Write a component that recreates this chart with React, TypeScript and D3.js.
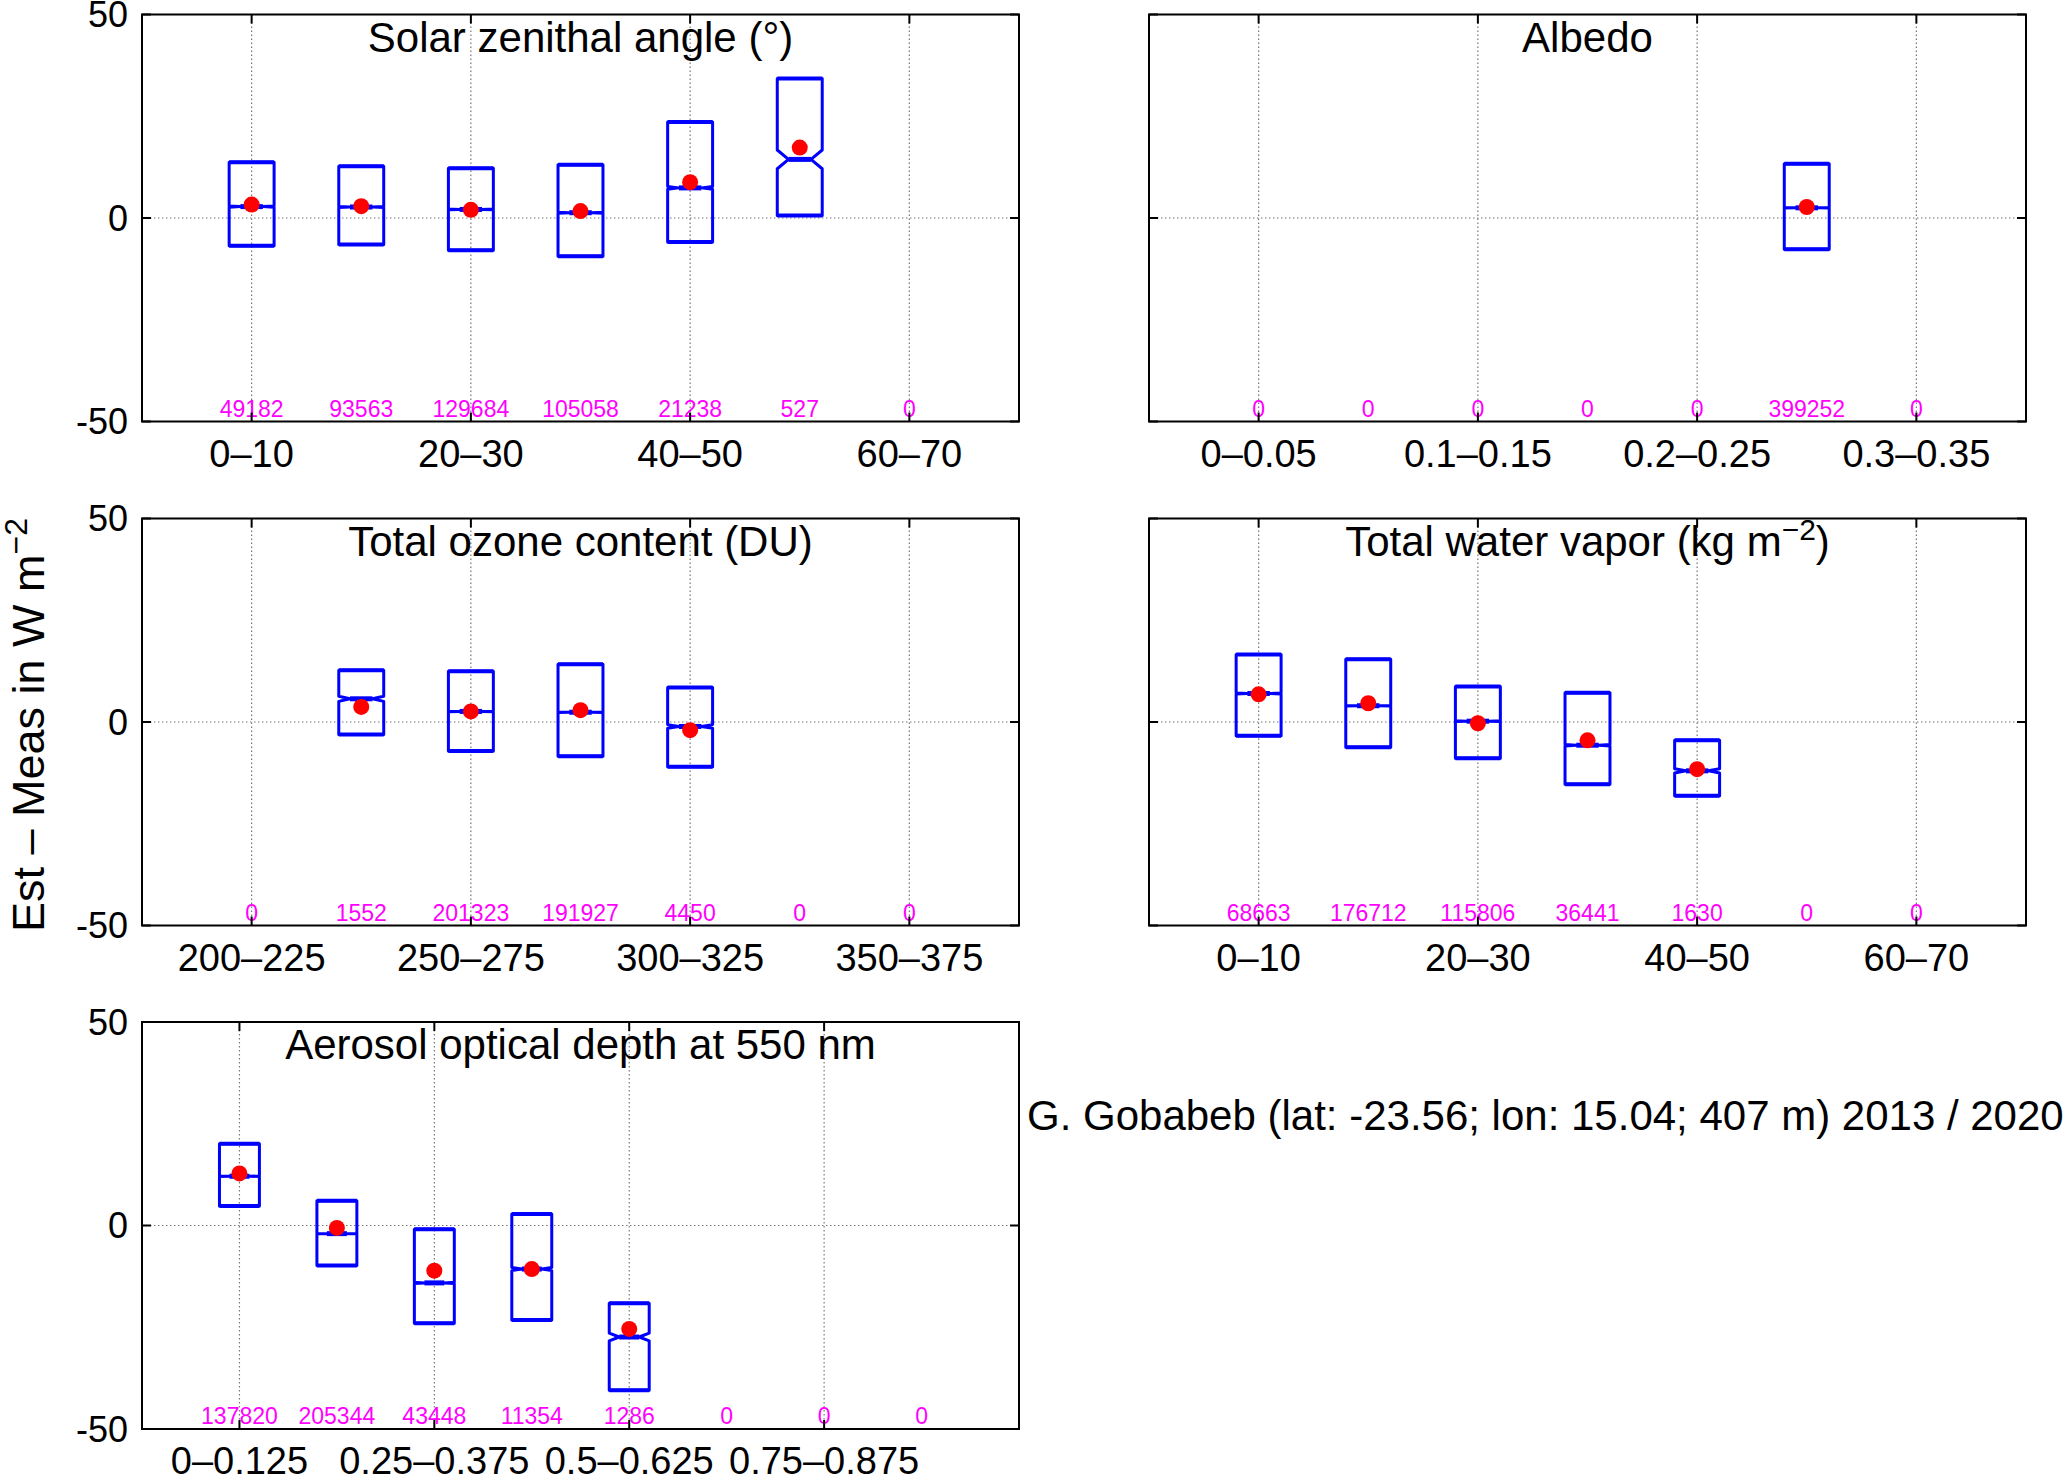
import React from "react";
import * as d3 from "d3";

// ---- data ----
const szaCategories = ["0–10", "10–20", "20–30", "30–40", "40–50", "50–60", "60–70"];
const szaCounts = [49182, 93563, 129684, 105058, 21238, 527, 0];
const szaQ1 = [-6.8, -6.5, -7.9, -9.4, -5.9, 0.6, null];
const szaQ3 = [13.7, 12.7, 12.2, 13.1, 23.6, 34.3, null];
const szaMedian = [2.8, 2.7, 2.1, 1.3, 7.4, 14.4, null];
const szaMean = [3.3, 2.9, 2.0, 1.7, 8.8, 17.3, null];

const albCategories = ["0–0.05", "0.05–0.1", "0.1–0.15", "0.15–0.2", "0.2–0.25", "0.25–0.3", "0.3–0.35"];
const albCounts = [0, 0, 0, 0, 0, 399252, 0];
const albQ1 = [null, null, null, null, null, -7.7, null];
const albQ3 = [null, null, null, null, null, 13.3, null];
const albMedian = [null, null, null, null, null, 2.5, null];
const albMean = [null, null, null, null, null, 2.7, null];

const ozoCategories = ["200–225", "225–250", "250–275", "275–300", "300–325", "325–350", "350–375"];
const ozoCounts = [0, 1552, 201323, 191927, 4450, 0, 0];
const ozoQ1 = [null, -3.1, -7.1, -8.4, -11.0, null, null];
const ozoQ3 = [null, 12.7, 12.5, 14.2, 8.5, null, null];
const ozoMedian = [null, 5.7, 2.6, 2.4, -1.1, null, null];
const ozoMean = [null, 3.7, 2.6, 2.9, -2.0, null, null];

const wvCategories = ["0–10", "10–20", "20–30", "30–40", "40–50", "50–60", "60–70"];
const wvCounts = [68663, 176712, 115806, 36441, 1630, 0, 0];
const wvQ1 = [-3.4, -6.2, -8.9, -15.3, -18.1, null, null];
const wvQ3 = [16.6, 15.4, 8.7, 7.2, -4.5, null, null];
const wvMedian = [7.0, 4.0, 0.2, -5.7, -12.0, null, null];
const wvMean = [6.8, 4.6, -0.3, -4.5, -11.6, null, null];

const aodCategories = ["0–0.125", "0.125–0.25", "0.25–0.375", "0.375–0.5", "0.5–0.625", "0.625–0.75", "0.75–0.875", "0.875–1"];
const aodCounts = [137820, 205344, 43448, 11354, 1286, 0, 0, 0];
const aodQ1 = [4.8, -9.8, -24.0, -23.2, -40.5, null, null, null];
const aodQ3 = [20.1, 6.1, -0.9, 2.8, -19.1, null, null, null];
const aodMedian = [12.1, -2.0, -14.1, -10.7, -27.4, null, null, null];
const aodMean = [12.8, -0.6, -11.1, -10.7, -25.4, null, null, null];

const yTicks = [-50, 0, 50];
const stationText = "G. Gobabeb (lat: -23.56; lon: 15.04; 407 m) 2013 / 2020";

const FONT = '"Liberation Sans", Arial, Helvetica, sans-serif';
const BLUE = "#0000ff";

type Num = number | null;

interface PanelProps {
  left: number;
  top: number;
  title: React.ReactNode;
  categories: string[];
  counts: number[];
  q1: Num[];
  q3: Num[];
  median: Num[];
  mean: Num[];
  yLabels?: boolean;
}

const W = 877;
const H = 407;

function Panel({ left, top, title, categories, counts, q1, q3, median, mean, yLabels }: PanelProps) {
  const n = categories.length;
  const x = d3.scaleLinear().domain([0, n + 1]).range([left, left + W]);
  const y = d3.scaleLinear().domain([-50, 50]).range([top + H, top]);
  const unit = x(1) - x(0);
  const hw = (0.41 * unit) / 2;
  const tickIdx = categories.map((_, i) => i).filter((i) => i % 2 === 0);

  return (
    <g>
      {/* grid */}
      {tickIdx.map((i) => (
        <line key={"gx" + i} x1={x(i + 1)} x2={x(i + 1)} y1={top} y2={top + H}
          stroke="#777" strokeWidth={1.2} strokeDasharray="1.5,2.5" />
      ))}
      <line x1={left} x2={left + W} y1={y(0)} y2={y(0)} stroke="#777" strokeWidth={1.2} strokeDasharray="1.5,2.5" />

      {/* notched boxes */}
      {categories.map((_, i) => {
        const a = q1[i], b = q3[i], m = median[i];
        if (a == null || b == null || m == null) return null;
        const cx = x(i + 1);
        const nh = (1.57 * (b - a)) / Math.sqrt(counts[i]);
        const p = d3.path();
        p.moveTo(cx - hw, y(a));
        p.lineTo(cx - hw, y(m - nh));
        p.lineTo(cx - hw / 2, y(m));
        p.lineTo(cx - hw, y(m + nh));
        p.lineTo(cx - hw, y(b));
        p.lineTo(cx + hw, y(b));
        p.lineTo(cx + hw, y(m + nh));
        p.lineTo(cx + hw / 2, y(m));
        p.lineTo(cx + hw, y(m - nh));
        p.lineTo(cx + hw, y(a));
        p.closePath();
        return (
          <g key={"b" + i}>
            <path d={p.toString()} fill="none" stroke={BLUE} strokeWidth={3} strokeLinejoin="round" />
            <line x1={cx - hw} x2={cx + hw} y1={y(b)} y2={y(b)} stroke={BLUE} strokeWidth={4} />
            <line x1={cx - hw} x2={cx + hw} y1={y(a)} y2={y(a)} stroke={BLUE} strokeWidth={4} />
            <line x1={cx - hw / 2} x2={cx + hw / 2} y1={y(m)} y2={y(m)} stroke={BLUE} strokeWidth={5} />
          </g>
        );
      })}
      {categories.map((_, i) => {
        const v = mean[i];
        if (v == null) return null;
        return <circle key={"m" + i} cx={x(i + 1)} cy={y(v)} r={8} fill="#ff0000" />;
      })}

      {/* counts per bin */}
      {counts.map((c, i) => (
        <text key={"c" + i} x={x(i + 1)} y={top + H - 5} textAnchor="middle" fontSize={23} fill="#ff00ff" fontFamily={FONT}>
          {c}
        </text>
      ))}

      {/* ticks */}
      {tickIdx.map((i) => (
        <g key={"t" + i}>
          <line x1={x(i + 1)} x2={x(i + 1)} y1={top + H} y2={top + H - 9} stroke="#000" strokeWidth={2} />
          <line x1={x(i + 1)} x2={x(i + 1)} y1={top} y2={top + 9} stroke="#000" strokeWidth={2} />
          <text x={x(i + 1)} y={top + H + 45} textAnchor="middle" fontSize={38} fontFamily={FONT}>
            {categories[i]}
          </text>
        </g>
      ))}
      {yTicks.map((t) => (
        <g key={"y" + t}>
          <line x1={left} x2={left + 9} y1={y(t)} y2={y(t)} stroke="#000" strokeWidth={2} />
          <line x1={left + W} x2={left + W - 9} y1={y(t)} y2={y(t)} stroke="#000" strokeWidth={2} />
          {yLabels && (
            <text x={left - 14} y={y(t)} dy="0.36em" textAnchor="end" fontSize={36} fontFamily={FONT}>
              {t}
            </text>
          )}
        </g>
      ))}

      <rect x={left} y={top} width={W} height={H} fill="none" stroke="#000" strokeWidth={2} />

      <text x={x((n + 1) / 2)} y={top + 37} textAnchor="middle" fontSize={42} fontFamily={FONT}>
        {title}
      </text>
    </g>
  );
}

export default function App() {
  return (
    <svg width={2067} height={1475} style={{ position: "absolute", left: 0, top: 0, background: "#fff" }}>
      <rect x={0} y={0} width={2067} height={1475} fill="#fff" />
      <Panel left={142} top={14.5} title="Solar zenithal angle (°)" categories={szaCategories} counts={szaCounts}
        q1={szaQ1} q3={szaQ3} median={szaMedian} mean={szaMean} yLabels />
      <Panel left={1149} top={14.5} title="Albedo" categories={albCategories} counts={albCounts}
        q1={albQ1} q3={albQ3} median={albMedian} mean={albMean} />
      <Panel left={142} top={518.5} title="Total ozone content (DU)" categories={ozoCategories} counts={ozoCounts}
        q1={ozoQ1} q3={ozoQ3} median={ozoMedian} mean={ozoMean} yLabels />
      <Panel left={1149} top={518.5}
        title={<>Total water vapor (kg m<tspan dy={-16} fontSize={30}>−2</tspan><tspan dy={16}>)</tspan></>}
        categories={wvCategories} counts={wvCounts} q1={wvQ1} q3={wvQ3} median={wvMedian} mean={wvMean} />
      <Panel left={142} top={1022} title="Aerosol optical depth at 550 nm" categories={aodCategories} counts={aodCounts}
        q1={aodQ1} q3={aodQ3} median={aodMedian} mean={aodMean} yLabels />

      <text transform="translate(44,725) rotate(-90)" textAnchor="middle" fontSize={45} fontFamily={FONT}>
        Est – Meas in W m<tspan dy={-17} fontSize={32}>−2</tspan>
      </text>

      <text x={1027} y={1130} fontSize={42} fontFamily={FONT}>
        {stationText}
      </text>
    </svg>
  );
}
